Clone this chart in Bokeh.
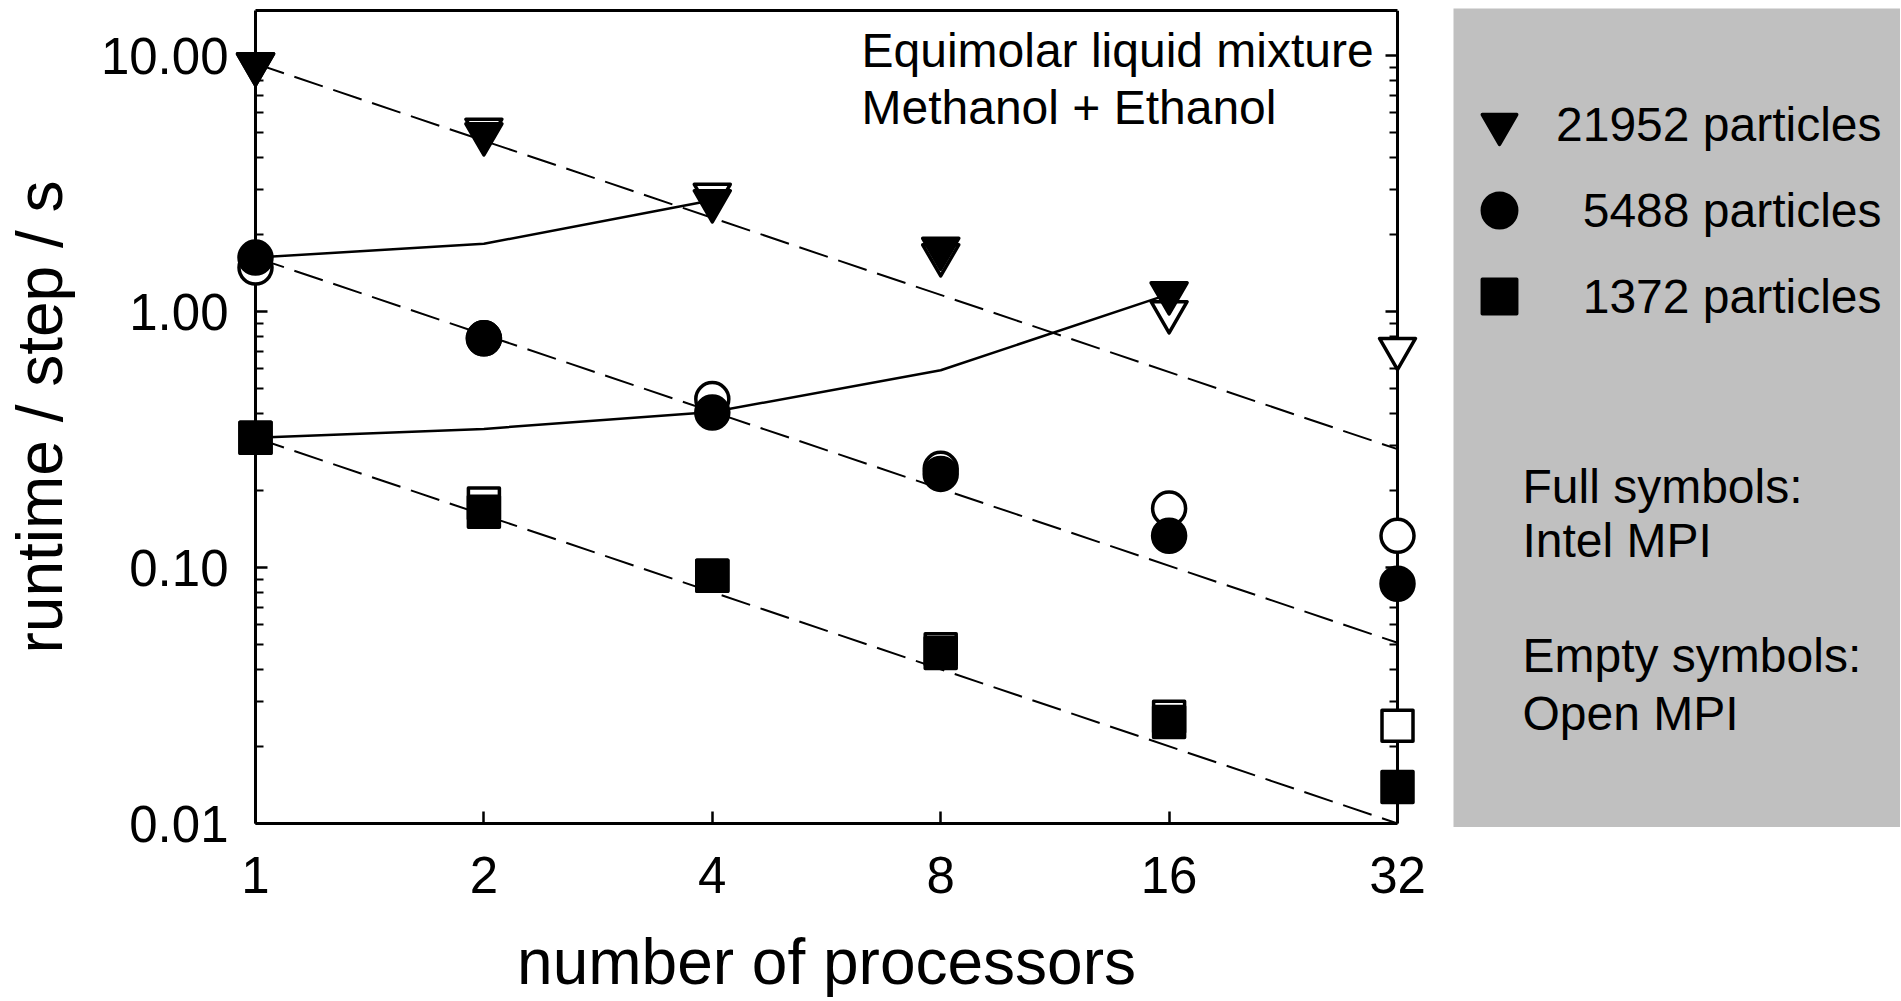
import math
from bokeh.plotting import figure
from bokeh.models import (FixedTicker, PrintfTickFormatter, CustomJSTickFormatter,
                          LogAxis, Label, Range1d, LinearScale, ColumnDataSource,
                          Legend, LegendItem)
from bokeh.embed import file_html
from bokeh.resources import INLINE
from bokeh.core.properties import value

# ---------------- data ----------------
procs = [1, 2, 4, 8, 16, 32]

intel_21952 = [9.25, 4.93, 2.70, 1.76, 1.18]          # no 32-processor Intel run
open_21952 = [9.25, 5.14, 2.86, 1.66, 0.995, 0.715]
intel_5488 = [1.625, 0.786, 0.403, 0.232, 0.133, 0.0864]
open_5488 = [1.485, 0.786, 0.455, 0.243, 0.170, 0.133]
intel_1372 = [0.321, 0.165, 0.0928, 0.0464, 0.0249, 0.0139]
open_1372 = [0.321, 0.178, 0.0928, 0.0479, 0.0261, 0.0241]

# solid lines (constant number of particles per processor)
weak_a_procs = [1, 2, 4]
weak_a = [1.625, 1.84, 2.72]
weak_b_procs = [1, 2, 4, 8, 16]
weak_b = [0.321, 0.348, 0.405, 0.59, 1.17]

# dashed lines (ideal scaling)
ideal_procs = [1, 32]
ideal_21952 = [9.3, 0.29]
ideal_5488 = [1.625, 0.0508]
ideal_1372 = [0.321, 0.0100]

x_ticks = [1, 2, 4, 8, 16, 32]
y_ticks = [0.01, 0.1, 1, 10]
y_minor_ticks = [m * 10.0 ** e for e in (-2, -1, 0) for m in range(2, 10)]

x_title = "number of processors"
y_title = "runtime / step / s"
title_lines = ["Equimolar liquid mixture", "Methanol + Ethanol"]
particle_counts = ["21952", "5488", "1372"]
legend_markers = ["inverted_triangle", "circle", "square"]
note_lines = ["Full symbols:", "Intel MPI", "Empty symbols:", "Open MPI"]

# ---------------- layout / styling ----------------
FONT = "Liberation Sans"
BLACK = "black"
GRAY = "#c0c0c0"
SIZES = {"inverted_triangle": 36, "circle": 33, "square": 31}
MLW = 3.5

W, H = 1900, 1000
F_LEFT, F_TOP, F_BOTTOM = 255, 10, 823      # frame edges in canvas px
F_RIGHT = W - 12                            # frame also holds the key box
X_LAST_PX = 1397                            # where the last processor count sits
x_lo, x_hi = x_ticks[0], x_ticks[-1]
x_end = x_lo * (x_hi / x_lo) ** ((F_RIGHT - F_LEFT) / (X_LAST_PX - F_LEFT))

p = figure(width=W, height=H,
           x_axis_type="log", y_axis_type="log",
           x_range=Range1d(x_lo, x_end), y_range=Range1d(0.01, 15),
           output_backend="svg", toolbar_location=None,
           min_border_left=F_LEFT, min_border_right=W - F_RIGHT,
           min_border_top=F_TOP, min_border_bottom=H - F_BOTTOM,
           background_fill_color="white", border_fill_color="white",
           outline_line_color=None)
p.grid.visible = False

# a pixel coordinate system (canvas px) for the annotation text and the key box
p.extra_x_ranges = {"px": Range1d(F_LEFT, F_RIGHT)}
p.extra_y_ranges = {"px": Range1d(F_BOTTOM, F_TOP)}
p.extra_x_scales = {"px": LinearScale()}
p.extra_y_scales = {"px": LinearScale()}

xax = p.xaxis[0]
yax = p.yaxis[0]
xax.ticker = FixedTicker(ticks=x_ticks, minor_ticks=[])
xax.formatter = PrintfTickFormatter(format="%d")
xax.bounds = (x_lo, x_hi)
yax.ticker = FixedTicker(ticks=y_ticks, minor_ticks=y_minor_ticks)
yax.formatter = PrintfTickFormatter(format="%.2f")

blank = CustomJSTickFormatter(code="return ''")
rax = LogAxis(ticker=FixedTicker(ticks=y_ticks, minor_ticks=y_minor_ticks),
              formatter=blank, fixed_location=x_hi)
p.add_layout(rax, "right")
tax = LogAxis(ticker=FixedTicker(ticks=[], minor_ticks=[]), formatter=blank,
              bounds=(x_lo, x_hi))
p.add_layout(tax, "above")

for ax in (xax, yax, rax, tax):
    ax.axis_line_color = BLACK
    ax.axis_line_width = 3
    ax.major_tick_line_color = BLACK
    ax.major_tick_line_width = 2.5
    ax.minor_tick_line_color = BLACK
    ax.minor_tick_line_width = 2
    ax.major_tick_in = 12
    ax.major_tick_out = 0
    ax.minor_tick_in = 8
    ax.minor_tick_out = 0
    ax.major_label_text_font = FONT
    ax.major_label_text_color = BLACK
    ax.axis_label_text_font = FONT
    ax.axis_label_text_font_style = "normal"
    ax.axis_label_text_color = BLACK

for ax in (rax, tax):
    ax.major_label_standoff = 0
tax.major_tick_in = 0
tax.minor_tick_in = 0

xax.major_label_text_font_size = "51px"
xax.major_label_standoff = 33

yax.major_label_text_font_size = "51px"
yax.major_label_standoff = 27
yax.axis_label = y_title
yax.axis_label_text_font_size = "64px"
yax.axis_label_standoff = 22

# x-axis title, centred under the 1..32 span of the axis (canvas px)
xt = p.text(x=[(F_LEFT + X_LAST_PX) / 2], y=[961], text=[x_title],
            text_font=value(FONT), text_font_size="64px", text_color=BLACK,
            text_align="center", text_baseline="middle",
            x_range_name="px", y_range_name="px")
xt.level = "overlay"

# ---------------- lines ----------------
for ys in (ideal_21952, ideal_5488, ideal_1372):
    p.line(ideal_procs, ys, line_color=BLACK, line_width=2, line_dash="30 11")
p.line(weak_a_procs, weak_a, line_color=BLACK, line_width=2.5)
p.line(weak_b_procs, weak_b, line_color=BLACK, line_width=2.5)

# ---------------- markers: empty (Open MPI) below, full (Intel MPI) on top ----------------
series = [
    (open_21952, "inverted_triangle", "white"),
    (open_5488, "circle", "white"),
    (open_1372, "square", "white"),
    (intel_21952, "inverted_triangle", BLACK),
    (intel_5488, "circle", BLACK),
    (intel_1372, "square", BLACK),
]
full_renderers = {}
for ys, mk, fill in series:
    src = ColumnDataSource(dict(x=procs[:len(ys)], y=ys))
    r = p.scatter("x", "y", source=src, marker=mk, size=SIZES[mk],
                  fill_color=fill, line_color=BLACK, line_width=MLW,
                  line_join="round")
    r.level = "overlay"   # drawn over the axes, not clipped at x=1 / x=32
    if fill == BLACK:
        full_renderers[mk] = r

# ---------------- annotation text inside the plot (canvas px) ----------------
title_x = 861
title_y = [50, 107]
for txt, yb in zip(title_lines, title_y):
    p.add_layout(Label(x=title_x, y=yb, x_range_name="px", y_range_name="px",
                       text=txt, text_font=FONT, text_font_size="48px",
                       text_color=BLACK, text_baseline="alphabetic",
                       text_align="left"))

# ---------------- key box on the right ----------------
box = p.quad(left=[1453], right=[W + 5], top=[8], bottom=[826.5],
             x_range_name="px", y_range_name="px",
             fill_color=GRAY, line_color=None)
box.level = "guide"

# legend labels padded with figure spaces so that they end at the same place
width = max(len(c) for c in particle_counts)
items = [LegendItem(label="\u2007" * (width - len(c)) + c + " particles",
                    renderers=[full_renderers[mk]])
         for c, mk in zip(particle_counts, legend_markers)]
legend = Legend(items=items, location=(1456 - F_LEFT, 484), orientation="vertical",
                glyph_width=86, glyph_height=86, label_height=86,
                spacing=0, padding=0, margin=0, label_standoff=14,
                label_text_font=FONT, label_text_font_size="48px",
                label_text_color=BLACK, label_text_baseline="middle",
                background_fill_alpha=0, border_line_color=None)
p.add_layout(legend, "center")

note_x = 1522
note_y = [486, 540, 655, 713]
t2 = p.text(x=[note_x] * 4, y=note_y, text=note_lines,
            text_font=value(FONT), text_font_size="48px", text_color=BLACK,
            text_align="left", text_baseline="alphabetic",
            x_range_name="px", y_range_name="px")
t2.level = "overlay"

open("out.html", "w").write(file_html(p, INLINE, title="runtime per step"))
